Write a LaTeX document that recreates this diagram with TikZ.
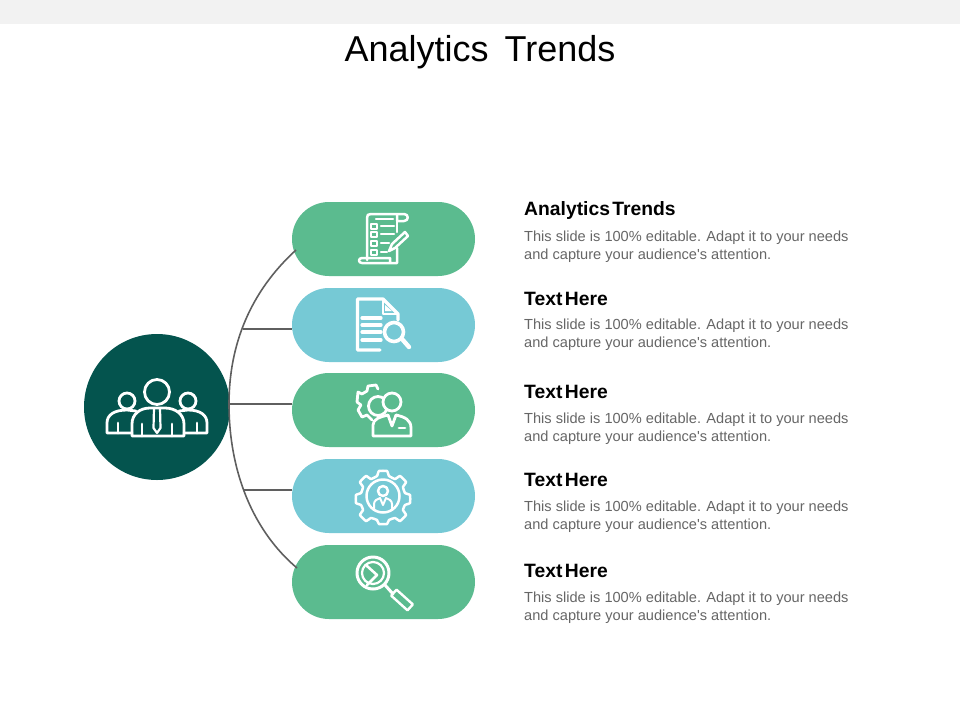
\documentclass[tikz,border=0pt]{standalone}
\usepackage{fontspec}
\setmainfont{Liberation Sans}
\definecolor{pillgreen}{HTML}{5BBB8F}
\definecolor{pillblue}{HTML}{76C9D5}
\definecolor{hubgreen}{HTML}{04544E}
\definecolor{spokegray}{HTML}{5F5F5F}
\definecolor{bodygray}{HTML}{666666}
\definecolor{bandgray}{HTML}{F2F2F2}
\tikzset{
    pill/.style={rectangle,rounded corners=37pt,minimum width=183pt,minimum height=74pt,inner sep=0pt,outer sep=0pt},
    spoke/.style={draw=spokegray,line width=1.6pt},
    icon/.style={draw=white,line width=2.8pt,line join=round,line cap=round},
    heading/.style={anchor=base west,inner sep=0pt,font=\fontsize{19.3}{20}\selectfont\bfseries},
    bodytext/.style={anchor=west,inner sep=0pt,align=left,text=bodygray,font=\fontsize{14.6}{18}\selectfont},
}
\begin{document}
\begin{tikzpicture}[x=1pt,y=-1pt]
    \useasboundingbox (0,0) rectangle (960,720);
    \fill[bandgray] (0,0) rectangle (960,24);
    \node[font=\fontsize{36}{36}\selectfont] (title) at (480,52.5) {Analytics\hspace{6pt} Trends};
    % hub and pills
    \node[circle,fill=hubgreen,minimum size=146pt,inner sep=0pt] (hub) at (157,407) {};
    \foreach \p/\y/\c in {a/239/pillgreen,b/325/pillblue,c/410/pillgreen,d/496/pillblue,e/582/pillgreen} {
        \node[pill,fill=\c] (pill\p) at (383.5,\y) {};
    }
    % connectors
    \coordinate (arcb) at (243,329);
    \coordinate (arcc) at (230,404);
    \coordinate (arcd) at (243,490);
    \draw[spoke] (pilla.west) ++(4,11) coordinate (arctop) .. controls (250,292) and (229,345) .. (229,404)
        .. controls (229,470) and (252,530) .. (297,568);
    \foreach \p in {b,c,d} {
        \draw[spoke] (arc\p) -- (arc\p -| pill\p.west);
    }
    % texts
    \foreach \n/\y/\ym/\wa/\wb in {a/215/247/Analytics/Trends,b/305/335/Text/Here,c/398/429/Text/Here,d/486/517/Text/Here,e/577/608/Text/Here} {
        \node[heading] (head\n) at (524,\y) {\wa\hspace{2.4pt}\wb};
        \node[bodytext] (body\n) at (524,\ym) {This slide is 100\% editable. Adapt it to your needs\\and capture your audience\textquotesingle s attention.};
    }
    % people
    \begin{scope}[icon]
        \draw (157,392) circle (12.5);
        \draw (127,401) circle (8);
        \draw (188,401) circle (8);
        \draw (132,436) -- (132,424) .. controls (132,414) and (140,408) .. (150,408) -- (165,408)
            .. controls (175,408) and (184,414) .. (184,424) -- (184,436) -- cycle;
        \draw (132,433) -- (107,433) -- (107,423) .. controls (107,415) and (114,410) .. (127,410) -- (136,411);
        \draw (184,433) -- (207,433) -- (207,423) .. controls (207,415) and (200,410) .. (188,410) -- (179,411);
        \draw[line width=2.2pt] (154,408) -- (153.5,428) -- (157,433) -- (160.5,428) -- (160,408);
        \foreach \x in {142,172} {\draw (\x,424) -- (\x,436);}
        \foreach \x in {118,197} {\draw (\x,423) -- (\x,433);}
    \end{scope}
    % checklist
    \begin{scope}[icon,line width=2.5pt]
        \draw (367,260) -- (367,218) .. controls (367,215) and (368,214) .. (371,214) -- (404,214)
            .. controls (409,214) and (409,221) .. (404,221) -- (397,221) -- (397,216);
        \draw (397,221) -- (397,232);
        \draw (397,248) -- (397,263) -- (362,263) .. controls (358,263) and (358,258) .. (362,258) -- (390,258) -- (390,263);
        \draw (376,219) -- (393,219);
        \foreach \y in {226,234,243,252} {
            \draw (371,\y-2) rectangle (377,\y+3);
        }
        \foreach \y/\e in {226/394,234/394,243/389,252/387} {
            \draw (381,\y) -- (\e,\y);
        }
        \draw (389,251) -- (392,244) -- (405,232) -- (408,236) -- (395,248) -- cycle;
    \end{scope}
    % document with lens
    \begin{scope}[icon,line width=3.4pt]
        \draw (380,350) -- (357.5,350) -- (357.5,299) -- (383,299) -- (398,314) -- (398,320);
        \draw[line width=1.6pt] (383,299) -- (383,314) -- (398,314);
        \fill[white] (385,305) -- (392,311) -- (385,311) -- cycle;
        \foreach \y in {318,325,332,340} {
            \draw[line width=3.2pt] (362,\y) -- (381,\y);
        }
        \draw[fill=pillblue,line width=3.6pt] (394,332) circle (9.5);
        \draw[line width=4.4pt] (402,339) -- (409,347);
    \end{scope}
    % gear with person
    \begin{scope}[icon]
        \draw (378,389) -- (376,385) -- (368,386) -- (367,391) -- (362,394) -- (358,392) -- (357,402)
            -- (361,405) -- (358,410) -- (362,417) -- (367,415) -- (372,420);
        \draw (378,406) circle (9.5);
        \draw[fill=pillgreen] (392,402) circle (9);
        \draw (373,436) -- (373,425) .. controls (373,419) and (380,417) .. (388,415) -- (392,426) -- (396,415)
            .. controls (405,417) and (411,420) .. (411,428) -- (411,436) -- cycle;
        \draw (399,428) -- (405,428);
    \end{scope}
    % gear with person in ring
    \begin{scope}[icon,line width=2.5pt]
        \draw (383,496) circle (16.5);
        \draw plot[smooth cycle,tension=0.25] coordinates {
            (379,471) (387,471) (389,476) (395,479) (400,476) (406,482) (403,487) (405,493)
            (410,495) (410,503) (405,505) (403,510) (406,515) (400,521) (395,518) (389,520)
            (387,524) (379,524) (377,520) (371,518) (366,521) (360,515) (363,510) (361,505)
            (356,503) (356,495) (361,493) (363,487) (360,482) (366,476) (371,479) (377,476)};
        \draw (383,491) circle (5);
        \draw[line width=2pt] (374,510) -- (374,504) .. controls (374,500) and (378,499) .. (380,498) -- (383,505) -- (386,498)
            .. controls (388,499) and (392,500) .. (392,504) -- (392,510);
    \end{scope}
    % magnifier
    \begin{scope}[icon]
        \draw[line width=3pt] (373,573) circle (16);
        \draw[line width=2.2pt] (373,573) circle (11);
        \draw[line width=2.6pt] (367,566) -- (377,575) -- (367,585);
        \draw[line width=3pt] (385,585) -- (393,594);
        \draw[line width=2.4pt,rotate around={-42:(402,600)}] (391,596) rectangle (413,604);
    \end{scope}
\end{tikzpicture}
\end{document}
